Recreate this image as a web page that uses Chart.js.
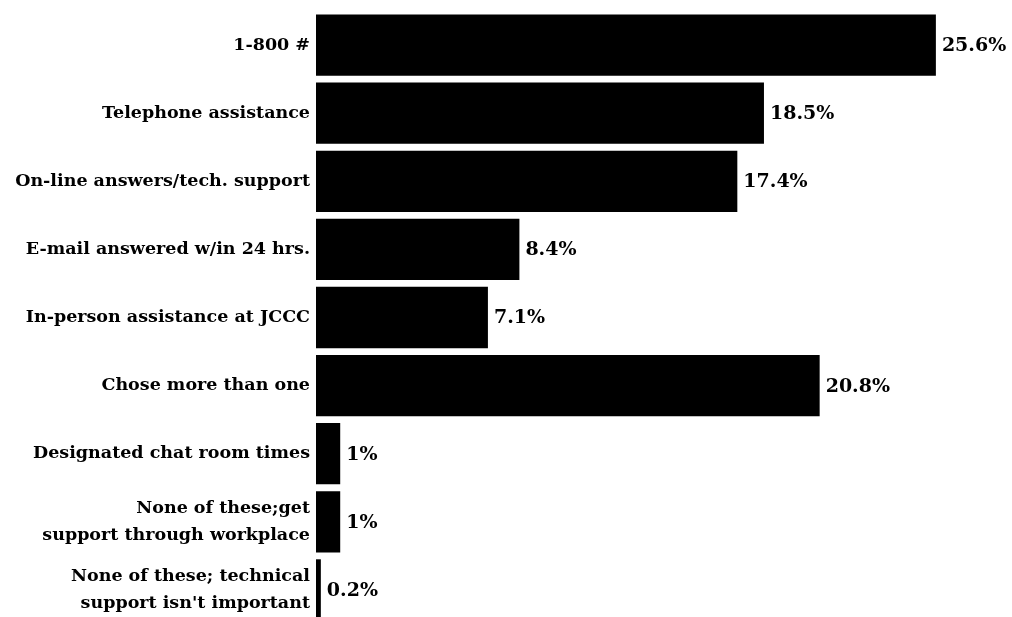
<!DOCTYPE html>
<html>
<head>
<meta charset="utf-8">
<script src="https://cdn.jsdelivr.net/npm/chart.js@4/dist/chart.umd.min.js"></script>
<style>
  html, body { margin: 0; padding: 0; background: #fff; overflow: hidden; }
  #wrap { width: 1012px; height: 624px; position: relative; }
</style>
</head>
<body>
<div id="wrap"><canvas id="chart"></canvas></div>
<script>
const categories = [
  '1-800 #',
  'Telephone assistance',
  'On-line answers/tech. support',
  'E-mail answered w/in 24 hrs.',
  'In-person assistance at JCCC',
  'Chose more than one',
  'Designated chat room times',
  ['None of these;get', 'support through workplace'],
  ['None of these; technical', "support isn't important"]
];
const percents = [25.6, 18.5, 17.4, 8.4, 7.1, 20.8, 1, 1, 0.2];
const valueLabels = ['25.6%', '18.5%', '17.4%', '8.4%', '7.1%', '20.8%', '1%', '1%', '0.2%'];

const fontFamily = '"DejaVu Serif", serif';

// writes the percentage to the right of each bar
const valueLabelPlugin = {
  id: 'valueLabels',
  afterDatasetsDraw(chart) {
    const ctx = chart.ctx;
    const meta = chart.getDatasetMeta(0);
    ctx.save();
    ctx.fillStyle = '#000';
    ctx.font = 'bold 19px ' + fontFamily;
    ctx.textAlign = 'left';
    ctx.textBaseline = 'middle';
    meta.data.forEach((bar, i) => {
      ctx.fillText(valueLabels[i], bar.x + 6, bar.y + 1);
    });
    ctx.restore();
  }
};

const ctx = document.getElementById('chart');

new Chart(ctx, {
  type: 'bar',
  data: {
    labels: categories,
    datasets: [{
      data: percents,
      backgroundColor: '#000',
      borderWidth: 0,
      barPercentage: 0.9,
      categoryPercentage: 1.0
    }]
  },
  options: {
    indexAxis: 'y',
    responsive: true,
    maintainAspectRatio: false,
    animation: false,
    layout: {
      padding: { top: 11, right: 18, bottom: 0, left: 0 }
    },
    plugins: {
      legend: { display: false },
      tooltip: { enabled: false }
    },
    scales: {
      x: {
        display: false,
        min: 0,
        max: 28
      },
      y: {
        grid: { display: false, drawTicks: false },
        border: { display: false },
        afterFit: (scale) => {
          scale.width = 316;
          scale.paddingTop = 0;
          scale.paddingBottom = 0;
        },
        ticks: {
          color: '#000',
          padding: 6,
          autoSkip: false,
          font: { family: fontFamily, size: 17.5, weight: 'bold', lineHeight: 1.5 }
        }
      }
    }
  },
  plugins: [valueLabelPlugin]
});
</script>
</body>
</html>
